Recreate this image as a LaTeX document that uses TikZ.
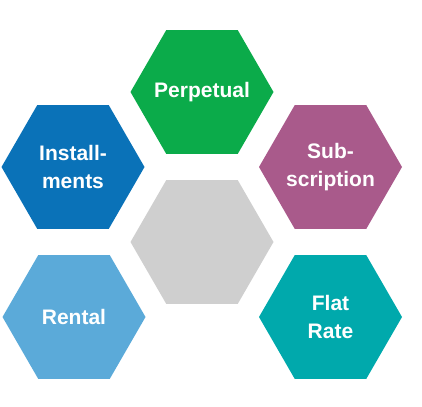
\documentclass[tikz,border=0pt]{standalone}
\usepackage{fontspec}
\setmainfont{Liberation Sans}
\usetikzlibrary{shapes.geometric}
\definecolor{cgreen}{HTML}{0BAB4A}
\definecolor{cblue}{HTML}{0A72B8}
\definecolor{cpurple}{HTML}{A95A8B}
\definecolor{cgray}{HTML}{CFCFCF}
\definecolor{clight}{HTML}{5BAAD9}
\definecolor{cteal}{HTML}{00A9AC}
\tikzset{
  hexa/.style={regular polygon, regular polygon sides=6, minimum size=143pt,
    inner sep=0pt, outer sep=0pt, draw=none, fill=#1},
  lbl/.style={text=white, align=center, inner sep=0pt,
    font=\fontsize{21}{28}\selectfont\bfseries}
}
\begin{document}
\begin{tikzpicture}[x=1pt,y=-1pt]
\useasboundingbox (0,0) rectangle (422,406);
\node[hexa=cgreen]  (perp) at (202,92)    {};
\node[hexa=cblue]   (inst) at (73,167)    {};
\node[hexa=cpurple] (subs) at (330.5,167) {};
\node[hexa=cgray]   (core) at (202,242)   {};
\node[hexa=clight]  (rent) at (74,317)    {};
\node[hexa=cteal]   (flat) at (330.5,317) {};
\node[lbl] (tperp) at (perp.center) {Perpetual};
\node[lbl] (tinst) at (inst.center) {Install-\\ments};
\node[lbl] (tsubs) at (subs.center) {Sub-\\scription};
\node[lbl] (trent) at (rent.center) {Rental};
\node[lbl] (tflat) at (flat.center) {Flat\\Rate};
\end{tikzpicture}
\end{document}
